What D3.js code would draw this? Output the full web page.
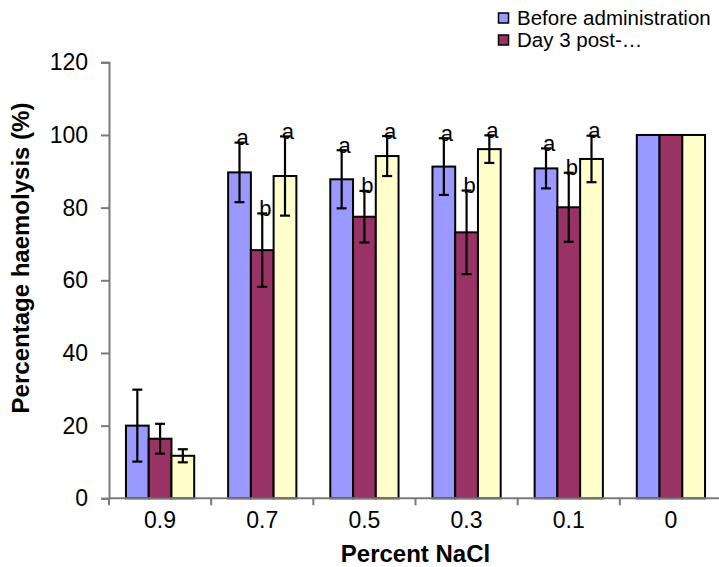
<!DOCTYPE html>
<html><head><meta charset="utf-8">
<script src="https://cdn.jsdelivr.net/npm/d3@7/dist/d3.min.js"></script>
<style>
body{margin:0;background:#fff;}
svg{display:block;font-family:"Liberation Sans",Arial,sans-serif;}
</style></head>
<body>
<svg id="chart" width="719" height="567"></svg>
<script>
const categories = ["0.9","0.7","0.5","0.3","0.1","0"];
const seriesNames = ["Before administration","Day 3 post-…",""];
const before    = [20.0, 89.7, 87.8, 91.3, 90.8, 100];
const beforeErr = [9.9, 8.2, 8.0, 7.8, 5.5, 0];
const day3      = [16.4, 68.3, 77.5, 73.2, 80.1, 100];
const day3Err   = [4.1, 10.1, 7.1, 11.5, 9.5, 0];
const third     = [11.7, 88.7, 94.2, 96.1, 93.4, 100];
const thirdErr  = [1.8, 10.9, 5.5, 3.8, 6.4, 0];
const beforeLabels = ["", "a", "a", "a", "a", ""];
const day3Labels   = ["", "b", "b", "b", "b", ""];
const thirdLabels  = ["", "a", "a", "a", "a", ""];
const yTicks = [0,20,40,60,80,100,120];
const colors = ["#9999FF","#993366","#FFFFCC"];

(function(){
const series = [
  {name: seriesNames[0], values: before, errs: beforeErr, labels: beforeLabels, color: colors[0]},
  {name: seriesNames[1], values: day3, errs: day3Err, labels: day3Labels, color: colors[1]},
  {name: seriesNames[2], values: third, errs: thirdErr, labels: thirdLabels, color: colors[2]}
];

const svg = d3.select("#chart");
const mLeft = 109, mRight = 722, mTop = 62.3, mBottom = 498.3;
const x = d3.scaleBand().domain(categories).range([mLeft, mRight]).padding(0);
const bw = x.bandwidth();
const xs = d3.scaleBand().domain(d3.range(series.length)).range([bw*0.166, bw*(1-0.166)]).padding(0);
const y = d3.scaleLinear().domain([0,120]).range([mBottom, mTop]);

const axisColor = "#7a7a7a";
const yAxis = svg.append("g").attr("transform", `translate(${mLeft},0)`)
  .call(d3.axisLeft(y).tickValues(yTicks).tickSize(8).tickPadding(13).tickFormat(d3.format("d")));
yAxis.select(".domain").attr("stroke", axisColor).attr("stroke-width", 2);
yAxis.selectAll(".tick line").attr("stroke", axisColor).attr("stroke-width", 2);
yAxis.selectAll(".tick text").attr("font-size", 23).attr("fill", "#000")
  .attr("font-family", "'Liberation Sans',Arial,sans-serif");

series.forEach((s, si) => {
  const g = svg.append("g");
  g.selectAll("rect").data(categories).join("rect")
    .attr("x", c => x(c) + xs(si))
    .attr("width", xs.bandwidth())
    .attr("y", (c,i) => y(s.values[i]))
    .attr("height", (c,i) => y(0) - y(s.values[i]))
    .attr("fill", s.color).attr("stroke", "#000").attr("stroke-width", 2);
});

svg.append("line").attr("x1", mLeft).attr("x2", 719).attr("y1", y(0)).attr("y2", y(0))
  .attr("stroke", axisColor).attr("stroke-width", 2);
const bounds = categories.map(c => x(c));
svg.selectAll(".xtick").data(bounds).join("line").attr("class","xtick")
  .attr("x1", d => d).attr("x2", d => d).attr("y1", y(0)).attr("y2", y(0) + 7)
  .attr("stroke", axisColor).attr("stroke-width", 2);
svg.selectAll(".xlab").data(categories).join("text").attr("class","xlab")
  .attr("x", c => x(c) + bw/2).attr("y", 528)
  .attr("text-anchor", "middle").attr("font-size", 23).text(c => c);

series.forEach((s, si) => {
  const g = svg.append("g").attr("stroke", "#000").attr("stroke-width", 2.2);
  categories.forEach((c, i) => {
    if (!s.errs[i]) return;
    const cx = x(c) + xs(si) + xs.bandwidth()/2;
    const hi = y(s.values[i] + s.errs[i]), lo = y(s.values[i] - s.errs[i]);
    g.append("line").attr("x1", cx).attr("x2", cx).attr("y1", hi).attr("y2", lo);
    g.append("line").attr("x1", cx-5).attr("x2", cx+5).attr("y1", hi).attr("y2", hi);
    g.append("line").attr("x1", cx-5).attr("x2", cx+5).attr("y1", lo).attr("y2", lo);
  });
});
series.forEach((s, si) => {
  categories.forEach((c, i) => {
    if (!s.labels[i]) return;
    const cx = x(c) + xs(si) + xs.bandwidth()/2;
    svg.append("text").attr("x", cx + 3).attr("y", y(s.values[i] + s.errs[i]) - 5)
      .attr("text-anchor", "middle").attr("dominant-baseline", "central")
      .attr("font-size", 22).attr("fill", "#000").text(s.labels[i]);
  });
});

svg.append("text").attr("transform", "translate(29,258) rotate(-90)")
  .attr("text-anchor", "middle").attr("font-size", 24).attr("font-weight", "bold")
  .text("Percentage haemolysis (%)");
svg.append("text").attr("x", (mLeft + mRight)/2).attr("y", 562)
  .attr("text-anchor", "middle").attr("font-size", 24).attr("font-weight", "bold")
  .text("Percent NaCl");

const legend = svg.append("g");
series.slice(0,2).forEach((s, i) => {
  legend.append("rect").attr("x", 498.5).attr("y", 13 + i*22).attr("width", 10).attr("height", 10)
    .attr("fill", s.color).attr("stroke", "#000").attr("stroke-width", 1.5);
  legend.append("text").attr("x", 517).attr("y", 25 + i*22)
    .attr("font-size", 20.5).attr("fill", "#000").text(s.name);
});
})();
</script>
</body></html>
